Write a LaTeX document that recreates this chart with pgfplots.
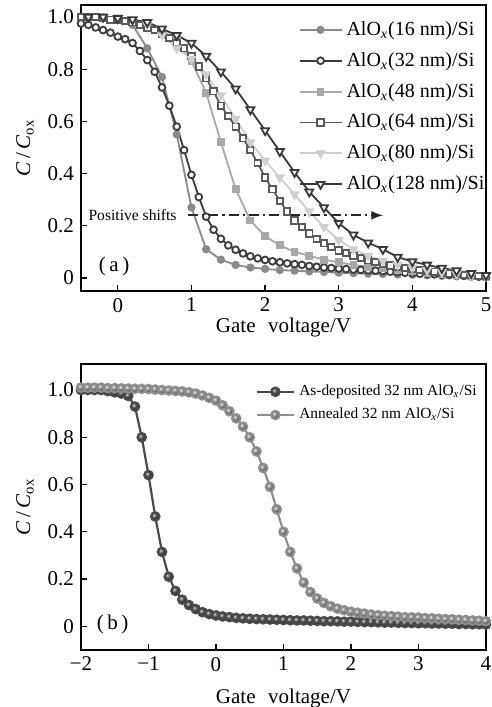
\documentclass[border=0pt]{standalone}
\usepackage{fontspec}
\setmainfont{Liberation Serif}
\usepackage{pgfplots}
\pgfplotsset{compat=1.18}

\definecolor{c16}{HTML}{8A8A8A}
\definecolor{c32}{HTML}{3C3C3C}
\definecolor{c48}{HTML}{A8A8A8}
\definecolor{c64}{HTML}{5A5A5A}
\definecolor{c80}{HTML}{CFCFCF}
\definecolor{c128}{HTML}{383838}
\definecolor{cdep}{HTML}{4A4A4A}
\definecolor{cann}{HTML}{8E8E8E}

\pgfplotsset{
  panel/.style={
    scale only axis, width=202.5pt, height=143pt,
    anchor=north west,
    axis line style={line width=0.8pt},
    tick align=inside, xtick pos=lower, ytick pos=left,
    major tick length=3pt,
    every tick/.style={black, line width=0.6pt},
    tick label style={font=\fontsize{10.5}{12}\selectfont},
    /pgf/number format/assume math mode=true,
    ytick={0,0.2,0.4,0.6,0.8,1.0},
    yticklabels={0,0.2,0.4,0.6,0.8,1.0},
    ylabel={\textit{C}\,/\,\textit{C}\textsubscript{ox}},
    ylabel style={at={([xshift=-28pt]axis description cs:0,0.5)}, anchor=center, font=\fontsize{10.5}{12}\selectfont},
    xlabel={Gate\hspace{0.6em}voltage/V},
    label style={font=\fontsize{10.5}{12}\selectfont},
  },
}

\begin{document}
\begin{tikzpicture}
\path[use as bounding box] (-40.5pt,2.5pt) rectangle (205.5pt,-351pt);

% ---------------- (a) ----------------
\begin{axis}[panel, at={(0pt,0pt)},
  xmin=-0.5, xmax=5, ymin=-0.05, ymax=1.046,
  xtick={0,1,2,3,4,5}, xticklabels={0,1,2,3,4,5},
  xlabel style={at={([yshift=-18pt]axis description cs:0.5,0)}, anchor=center},
  legend style={at={(axis cs:2.45,1.0)}, anchor=north west, draw=none, fill=none,
    font=\fontsize{10}{12}\selectfont, row sep=3pt, inner sep=0pt},
  legend cell align=left,
  legend image code/.code={\draw[mark repeat=2,mark phase=2] plot coordinates {(0cm,0cm) (0.37cm,0cm) (0.74cm,0cm)};},
]
\addplot[c16, line width=0.9pt, mark=*, mark size=1.6pt, mark options={fill=c16}] coordinates {
(-0.4,1.0)(-0.2,1.0)(0,0.995)(0.2,0.97)(0.4,0.88)(0.6,0.77)(0.8,0.55)(1.0,0.27)(1.2,0.11)(1.4,0.07)
(1.6,0.05)(1.8,0.04)(2.0,0.035)(2.2,0.03)(2.4,0.028)(2.6,0.025)(2.8,0.023)(3.0,0.02)(3.2,0.018)(3.4,0.016)
(3.6,0.015)(3.8,0.013)(4.0,0.012)(4.2,0.01)(4.4,0.008)(4.6,0.006)(4.8,0.004)(5.0,0.002)};
\addlegendentry{AlO\textsubscript{\textit{x}}(16 nm)/Si}
\addplot[c32, line width=0.9pt, mark=*, mark size=1.7pt, mark options={fill=white}] coordinates {
(-0.5,0.975)(-0.4,0.97)(-0.3,0.96)(-0.2,0.95)(-0.1,0.94)(0,0.925)(0.1,0.915)(0.2,0.90)(0.3,0.87)(0.4,0.835)
(0.5,0.79)(0.6,0.73)(0.7,0.66)(0.8,0.58)(0.9,0.49)(1.0,0.395)(1.1,0.31)(1.2,0.235)(1.3,0.185)(1.4,0.15)
(1.5,0.125)(1.6,0.108)(1.7,0.094)(1.8,0.083)(1.9,0.075)(2.0,0.069)(2.1,0.064)(2.2,0.06)(2.3,0.056)(2.4,0.053)
(2.5,0.05)(2.6,0.046)(2.7,0.043)(2.8,0.04)(2.9,0.038)(3.0,0.036)(3.1,0.034)(3.2,0.032)(3.3,0.031)(3.4,0.029)
(3.5,0.028)(3.6,0.026)(3.7,0.024)(3.8,0.022)(3.9,0.02)(4.0,0.018)(4.1,0.016)(4.2,0.015)(4.3,0.014)(4.4,0.012)
(4.5,0.011)(4.6,0.01)(4.7,0.008)(4.8,0.007)(4.9,0.005)(5.0,0.004)};
\addlegendentry{AlO\textsubscript{\textit{x}}(32 nm)/Si}
\addplot[c48, line width=0.9pt, mark=square*, mark size=1.5pt, mark options={fill=c48}] coordinates {
(-0.4,1.0)(-0.2,1.0)(0,0.995)(0.2,0.985)(0.4,0.97)(0.6,0.95)(0.8,0.91)(1.0,0.83)(1.2,0.71)(1.4,0.52)
(1.6,0.34)(1.8,0.22)(2.0,0.16)(2.2,0.125)(2.4,0.10)(2.6,0.085)(2.8,0.07)(3.0,0.06)(3.2,0.05)(3.4,0.043)
(3.6,0.036)(3.8,0.03)(4.0,0.025)(4.2,0.02)(4.4,0.016)(4.6,0.012)(4.8,0.008)(5.0,0.005)};
\addlegendentry{AlO\textsubscript{\textit{x}}(48 nm)/Si}
\addplot[c64, line width=0.9pt, mark=square*, mark size=1.6pt, mark options={fill=white}] coordinates {
(-0.5,1.0)(-0.4,1.0)(-0.3,1.0)(-0.2,0.995)(-0.1,0.99)(0,0.99)(0.1,0.985)(0.2,0.98)(0.3,0.97)(0.4,0.96)
(0.5,0.95)(0.6,0.935)(0.7,0.92)(0.8,0.90)(0.9,0.88)(1.0,0.85)(1.1,0.81)(1.2,0.765)(1.3,0.715)(1.4,0.66)
(1.5,0.62)(1.6,0.58)(1.7,0.535)(1.8,0.49)(1.9,0.44)(2.0,0.385)(2.1,0.34)(2.2,0.295)(2.3,0.255)(2.4,0.22)
(2.5,0.195)(2.6,0.17)(2.7,0.15)(2.8,0.133)(2.9,0.118)(3.0,0.105)(3.1,0.095)(3.2,0.085)(3.3,0.076)(3.4,0.068)
(3.5,0.061)(3.6,0.054)(3.7,0.048)(3.8,0.043)(3.9,0.038)(4.0,0.034)(4.1,0.030)(4.2,0.027)(4.3,0.024)(4.4,0.021)
(4.5,0.018)(4.6,0.015)(4.7,0.012)(4.8,0.01)(4.9,0.008)(5.0,0.006)};
\addlegendentry{AlO\textsubscript{\textit{x}}(64 nm)/Si}
\addplot[c80, line width=0.9pt, mark=triangle*, mark size=2.1pt, mark options={rotate=180, fill=c80}] coordinates {
(-0.4,1.0)(-0.2,1.0)(0,1.0)(0.2,0.99)(0.4,0.97)(0.6,0.93)(0.8,0.88)(1.0,0.84)(1.2,0.78)(1.4,0.70)
(1.6,0.61)(1.8,0.52)(2.0,0.45)(2.2,0.385)(2.4,0.32)(2.6,0.255)(2.8,0.195)(3.0,0.145)(3.2,0.11)(3.4,0.085)
(3.6,0.065)(3.8,0.05)(4.0,0.04)(4.2,0.03)(4.4,0.022)(4.6,0.016)(4.8,0.01)(5.0,0.006)};
\addlegendentry{AlO\textsubscript{\textit{x}}(80 nm)/Si}
\addplot[c128, line width=0.9pt, mark=triangle*, mark size=2.3pt, mark options={rotate=180, fill=white}] coordinates {
(-0.4,1.0)(-0.2,1.0)(0,0.995)(0.2,0.99)(0.4,0.98)(0.6,0.955)(0.8,0.93)(1.0,0.90)(1.2,0.85)(1.4,0.79)
(1.6,0.725)(1.8,0.645)(2.0,0.565)(2.2,0.485)(2.4,0.405)(2.6,0.33)(2.8,0.27)(3.0,0.21)(3.2,0.165)(3.4,0.135)
(3.6,0.11)(3.8,0.08)(4.0,0.063)(4.2,0.05)(4.4,0.038)(4.6,0.028)(4.8,0.018)(5.0,0.01)};
\addlegendentry{AlO\textsubscript{\textit{x}}(128 nm)/Si}
\draw[black!85, line width=1pt, dash pattern=on 5pt off 2pt on 1.2pt off 2pt, -latex]
  (axis cs:0.95,0.24) -- (axis cs:3.6,0.24);
\node[anchor=east, font=\fontsize{7.8}{9}\selectfont, inner sep=1pt] at (axis cs:0.83,0.24) {Positive shifts};
\node[font=\fontsize{10.5}{12}\selectfont] at (axis cs:-0.05,0.045) {(\,a\,)};
\end{axis}

% ---------------- (b) ----------------
\begin{axis}[panel, at={(0pt,-179.5pt)},
  xmin=-2, xmax=4, ymin=-0.1, ymax=1.11,
  xtick={-2,-1,0,1,2,3,4}, xticklabels={−2,−1,0,1,2,3,4},
  xlabel style={at={([yshift=-24pt]axis description cs:0.5,0)}, anchor=center},
  legend style={at={(axis cs:0.58,1.04)}, anchor=north west, draw=none, fill=none,
    font=\fontsize{7.7}{9}\selectfont, row sep=0.8pt, inner sep=0pt},
  legend cell align=left,
  legend image code/.code={\draw[mark repeat=2,mark phase=2] plot coordinates {(0cm,0cm) (0.33cm,0cm) (0.66cm,0cm)};},
]
\addplot[cdep, line width=1.1pt, mark=ball, mark size=2.1pt, mark options={ball color=cdep}] coordinates {
(-2.0,1.0)(-1.9,1.0)(-1.8,1.0)(-1.7,1.0)(-1.6,0.995)(-1.5,0.99)(-1.4,0.985)(-1.3,0.975)(-1.2,0.93)(-1.1,0.80)
(-1.0,0.64)(-0.9,0.465)(-0.8,0.315)(-0.7,0.21)(-0.6,0.15)(-0.5,0.113)(-0.4,0.09)(-0.3,0.073)(-0.2,0.06)(-0.1,0.052)
(0.0,0.046)(0.1,0.042)(0.2,0.039)(0.3,0.036)(0.4,0.034)(0.5,0.032)(0.6,0.031)(0.7,0.03)(0.8,0.029)(0.9,0.028)
(1.0,0.027)(1.1,0.026)(1.2,0.025)(1.3,0.025)(1.4,0.024)(1.5,0.023)(1.6,0.022)(1.7,0.022)(1.8,0.021)(1.9,0.02)
(2.0,0.02)(2.1,0.019)(2.2,0.018)(2.3,0.018)(2.4,0.017)(2.5,0.016)(2.6,0.016)(2.7,0.015)(2.8,0.014)(2.9,0.014)
(3.0,0.013)(3.1,0.013)(3.2,0.012)(3.3,0.012)(3.4,0.011)(3.5,0.011)(3.6,0.01)(3.7,0.01)(3.8,0.009)(3.9,0.009)(4.0,0.008)};
\addlegendentry{As-deposited 32 nm AlO\textsubscript{\textit{x}}/Si}
\addplot[cann, line width=1.1pt, mark=ball, mark size=2.1pt, mark options={ball color=cann}] coordinates {
(-2.0,1.01)(-1.9,1.01)(-1.8,1.01)(-1.7,1.01)(-1.6,1.008)(-1.5,1.008)(-1.4,1.007)(-1.3,1.006)(-1.2,1.005)(-1.1,1.005)
(-1.0,1.004)(-0.9,1.002)(-0.8,1.0)(-0.7,0.998)(-0.6,0.996)(-0.5,0.994)(-0.4,0.99)(-0.3,0.985)(-0.2,0.977)(-0.1,0.967)
(0.0,0.955)(0.1,0.935)(0.2,0.91)(0.3,0.88)(0.4,0.845)(0.5,0.80)(0.6,0.74)(0.7,0.67)(0.8,0.59)(0.9,0.495)
(1.0,0.40)(1.1,0.315)(1.2,0.245)(1.3,0.185)(1.4,0.145)(1.5,0.118)(1.6,0.099)(1.7,0.085)(1.8,0.075)(1.9,0.068)
(2.0,0.062)(2.1,0.058)(2.2,0.054)(2.3,0.05)(2.4,0.047)(2.5,0.045)(2.6,0.043)(2.7,0.041)(2.8,0.039)(2.9,0.038)
(3.0,0.037)(3.1,0.035)(3.2,0.034)(3.3,0.032)(3.4,0.031)(3.5,0.03)(3.6,0.028)(3.7,0.027)(3.8,0.025)(3.9,0.024)(4.0,0.022)};
\addlegendentry{Annealed 32 nm AlO\textsubscript{\textit{x}}/Si}
\node[font=\fontsize{10.5}{12}\selectfont] at (axis cs:-1.53,0.007) {(\,b\,)};
\end{axis}
\end{tikzpicture}
\end{document}
